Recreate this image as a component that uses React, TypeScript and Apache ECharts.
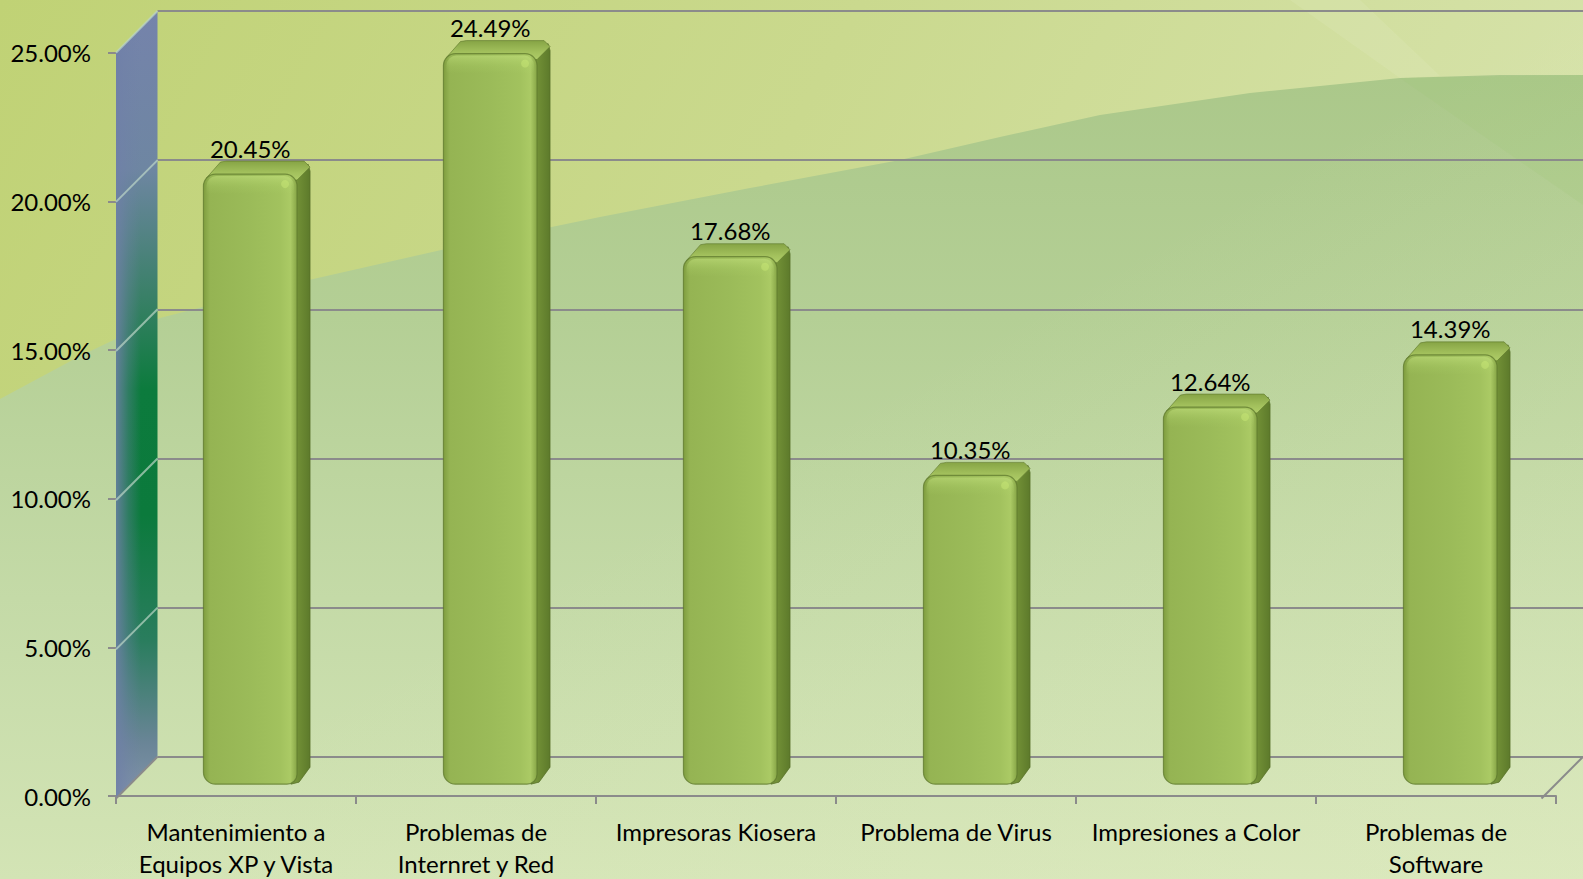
import React, { useEffect, useRef } from 'react';
import * as echarts from 'echarts';

// ---- data ----
const categories = [
  'Mantenimiento a\nEquipos XP y Vista',
  'Problemas de\nInternret y Red',
  'Impresoras Kiosera',
  'Problema de Virus',
  'Impresiones a Color',
  'Problemas de\nSoftware',
];
const values = [20.45, 24.49, 17.68, 10.35, 12.64, 14.39];
const yTicks = [0, 5, 10, 15, 20, 25];
const yTickLabels = ['0.00%', '5.00%', '10.00%', '15.00%', '20.00%', '25.00%'];
const Y_MIN = 0;
const Y_MAX = 25;
const Y_STEP = 5;

// ---- layout (styling only) ----
const FRONT_LEFT = 116;
const FRONT_TOP = 52.7;
const PLOT_W = 1440;
const PLOT_H = 745.8;
const DX = 41.5;
const DY = 41.7;
const FONT = 'Lato';
const GRID_GRAY = '#8b8b8b';

const lg = (x: number, y: number, x2: number, y2: number, stops: [number, string][]) =>
  new echarts.graphic.LinearGradient(x, y, x2, y2, stops.map(([offset, color]) => ({ offset, color })));

export default function App() {
  const ref = useRef<HTMLDivElement>(null);

  useEffect(() => {
    if (!ref.current) return;
    const chart = echarts.init(ref.current, undefined, { renderer: 'svg' });

    const wallRender = (params: any, api: any) => {
      const v = api.value(1);
      const half = api.size([1, 0])[0] / 2;
      const p = api.coord([0, v]);
      const bx = p[0] - half;
      const by = p[1];
      const fx = bx - DX;
      const fy = by + DY;
      const children: any[] = [];
      if (params.dataIndex === 0) {
        const t = api.coord([0, Y_MAX]);
        const b = api.coord([0, Y_MIN]);
        const btx = t[0] - half;
        const pts = [
          [btx - DX, t[1] + DY],
          [btx, t[1]],
          [btx, b[1]],
          [btx - DX, b[1] + DY],
        ];
        children.push({
          type: 'polygon',
          shape: { points: pts },
          style: {
            fill: lg(0, 0, 0, 1, [
              [0, '#7583ab'],
              [0.2, '#6e86a2'],
              [0.36, '#3a8068'],
              [0.48, '#0c7b3d'],
              [0.64, '#0b7a3c'],
              [0.8, '#2a7d5e'],
              [0.93, '#6a8597'],
              [1, '#8395ab'],
            ]),
          },
        });
        children.push({
          type: 'polygon',
          shape: { points: pts },
          style: {
            fill: lg(0, 0, 1, 0, [
              [0, 'rgba(112,128,168,0.85)'],
              [0.3, 'rgba(112,128,168,0.35)'],
              [0.6, 'rgba(112,128,168,0)'],
              [1, 'rgba(112,128,168,0)'],
            ]),
          },
        });
        const r = api.coord([categories.length - 1, Y_MIN]);
        const brx = r[0] + half;
        children.push({
          type: 'line',
          shape: { x1: brx - DX, y1: r[1] + DY, x2: brx, y2: r[1] },
          style: { stroke: GRID_GRAY, lineWidth: 2 },
        });
      }
      children.push({
        type: 'line',
        shape: { x1: fx, y1: fy, x2: bx, y2: by },
        style: {
          stroke: v === Y_MIN ? GRID_GRAY : 'rgba(190,215,200,0.7)',
          lineWidth: 2,
        },
      });
      return { type: 'group', children };
    };

    const barRender = (params: any, api: any) => {
      const idx = api.value(0);
      const v = api.value(1);
      const top = api.coord([idx, v]);
      const base = api.coord([idx, 0]);
      const band = api.size([1, 0])[0];
      const bw = band * 0.39;
      const d = 6.5;
      const fx0 = top[0] - d - bw / 2;
      const fx1 = fx0 + bw;
      const fyT = top[1] + d;
      const fyB = base[1] + d;
      const label = values[params.dataIndex].toFixed(2) + '%';
      return {
        type: 'group',
        children: [
          {
            type: 'polygon',
            shape: {
              points: [
                [fx1 - 6, fyT + 2],
                [fx1 + 2 * d - 2, fyT - 2 * d + 3],
                [fx1 + 2 * d, fyT - 2 * d + 10],
                [fx1 + 2 * d, fyB - 2 * d - 4],
                [fx1 + 2, fyB - 2],
                [fx1 - 6, fyB],
              ],
            },
            style: {
              fill: lg(0, 0, 1, 0, [
                [0, '#7b9a3e'],
                [0.5, '#6c8a33'],
                [1, '#5d7a2b'],
              ]),
              stroke: 'rgba(85,110,40,0.7)',
              lineWidth: 1,
            },
          },
          {
            type: 'polygon',
            shape: {
              points: [
                [fx0 + 3, fyT + 4],
                [fx0 + 2 * d + 4, fyT - 2 * d + 1],
                [fx0 + 2 * d + 10, fyT - 2 * d],
                [fx1 + 2 * d - 6, fyT - 2 * d],
                [fx1 + 2 * d, fyT - 2 * d + 6],
                [fx1, fyT + 6],
              ],
            },
            style: {
              fill: lg(0, 0, 0, 1, [
                [0, '#86a445'],
                [0.6, '#a2c05c'],
                [1, '#afcd68'],
              ]),
              stroke: 'rgba(95,120,45,0.6)',
              lineWidth: 1,
            },
          },
          {
            type: 'rect',
            shape: { x: fx0, y: fyT, width: bw, height: fyB - fyT, r: [12, 12, 10, 12] },
            style: {
              fill: lg(0, 0, 1, 0, [
                [0, '#809e40'],
                [0.07, '#95b453'],
                [0.5, '#9bbb59'],
                [0.82, '#a2c25e'],
                [0.93, '#abca65'],
                [1, '#86a546'],
              ]),
              stroke: 'rgba(95,122,45,0.75)',
              lineWidth: 1.2,
            },
          },
          {
            type: 'rect',
            shape: { x: fx0 + 3, y: fyT + 2, width: bw - 6, height: 18, r: [10, 10, 0, 0] },
            style: {
              fill: lg(0, 0, 0, 1, [
                [0, 'rgba(200,230,130,0.5)'],
                [0.6, 'rgba(180,215,110,0.18)'],
                [1, 'rgba(180,215,110,0)'],
              ]),
            },
          },
          {
            type: 'circle',
            shape: { cx: fx1 - 12, cy: fyT + 10, r: 4 },
            style: { fill: 'rgba(205,235,120,0.45)' },
          },
          {
            type: 'text',
            style: {
              text: label,
              x: top[0] - d,
              y: top[1] - d - 13,
              align: 'center',
              verticalAlign: 'middle',
              fontSize: 24,
              fontFamily: FONT,
              fill: '#000000',
            },
          },
        ],
      };
    };

    const option: any = {
      animation: false,
      backgroundColor: lg(0, 0, 1, 0.3, [
        [0, '#c0d275'],
        [0.5, '#cad98e'],
        [1, '#d7e3ac'],
      ]),
      textStyle: { fontFamily: FONT },
      graphic: {
        elements: [
          {
            type: 'polygon',
            z: -10,
            silent: true,
            shape: {
              points: [
                [0, 399], [80, 356], [160, 318], [300, 282], [450, 248], [600, 217],
                [750, 188], [900, 160], [1000, 137], [1100, 115], [1250, 93],
                [1400, 78], [1500, 75], [1583, 75], [1583, 879], [0, 879],
              ],
            },
            style: {
              fill: lg(0, 0, 0, 1, [
                [0, '#abc88a'],
                [0.3, '#b4cf95'],
                [0.65, '#c4daa7'],
                [1, '#d3e4b5'],
              ]),
            },
          },
          {
            type: 'rect',
            z: -9,
            silent: true,
            shape: { x: 0, y: 0, width: 1583, height: 879 },
            style: {
              fill: lg(0, 0, 1, 1, [
                [0, 'rgba(235,242,205,0)'],
                [0.5, 'rgba(235,242,205,0)'],
                [1, 'rgba(235,242,205,0.35)'],
              ]),
            },
          },
          {
            type: 'polygon',
            z: -9,
            silent: true,
            shape: { points: [[1400, 78], [1583, 75], [1583, 205]] },
            style: { fill: 'rgba(160,198,118,0.2)' },
          },
          {
            type: 'polygon',
            z: -9,
            silent: true,
            shape: { points: [[1290, 0], [1360, 0], [1440, 76], [1400, 78]] },
            style: { fill: 'rgba(235,242,205,0.15)' },
          },
        ],
      },
      grid: [
        { left: FRONT_LEFT, top: FRONT_TOP, width: PLOT_W, height: PLOT_H },
        { left: FRONT_LEFT + DX, top: FRONT_TOP - DY, width: PLOT_W, height: PLOT_H },
        { left: FRONT_LEFT + DX / 2, top: FRONT_TOP - DY / 2, width: PLOT_W, height: PLOT_H },
      ],
      xAxis: [
        {
          type: 'category',
          gridIndex: 0,
          data: categories,
          boundaryGap: true,
          axisLine: { show: true, lineStyle: { color: GRID_GRAY, width: 2 } },
          axisTick: { show: true, length: 8, lineStyle: { color: GRID_GRAY, width: 2 } },
          axisLabel: {
            interval: 0,
            fontSize: 24,
            lineHeight: 32,
            margin: 19,
            color: '#000000',
            fontFamily: FONT,
          },
          splitLine: { show: false },
        },
        { type: 'category', gridIndex: 1, data: categories, show: false },
        { type: 'category', gridIndex: 2, data: categories, show: false },
      ],
      yAxis: [
        {
          type: 'value',
          gridIndex: 0,
          min: Y_MIN,
          max: Y_MAX,
          interval: Y_STEP,
          axisLine: { show: false },
          axisTick: { show: true, length: 8, lineStyle: { color: GRID_GRAY, width: 2 } },
          axisLabel: {
            fontSize: 24,
            margin: 25,
            color: '#000000',
            fontFamily: FONT,
            formatter: (val: number) => yTickLabels[yTicks.indexOf(val)] ?? val.toFixed(2) + '%',
          },
          splitLine: { show: false },
        },
        {
          type: 'value',
          gridIndex: 1,
          min: Y_MIN,
          max: Y_MAX,
          interval: Y_STEP,
          axisLine: { show: false },
          axisTick: { show: false },
          axisLabel: { show: false },
          splitLine: { show: true, lineStyle: { color: GRID_GRAY, width: 2 } },
        },
        {
          type: 'value',
          gridIndex: 2,
          min: Y_MIN,
          max: Y_MAX,
          interval: Y_STEP,
          show: false,
          splitLine: { show: false },
        },
      ],
      series: [
        {
          type: 'custom',
          name: 'wall',
          xAxisIndex: 1,
          yAxisIndex: 1,
          z: 1,
          silent: true,
          clip: false,
          data: yTicks.map((t) => [0, t]),
          renderItem: wallRender,
        },
        {
          type: 'custom',
          name: 'bars',
          xAxisIndex: 2,
          yAxisIndex: 2,
          z: 5,
          clip: false,
          data: values.map((v, i) => [i, v]),
          encode: { x: 0, y: 1 },
          renderItem: barRender,
        },
      ],
    };

    chart.setOption(option);
    return () => chart.dispose();
  }, []);

  return (
    <div
      ref={ref}
      style={{ position: 'absolute', left: 0, top: 0, width: 1583, height: 879 }}
    />
  );
}
